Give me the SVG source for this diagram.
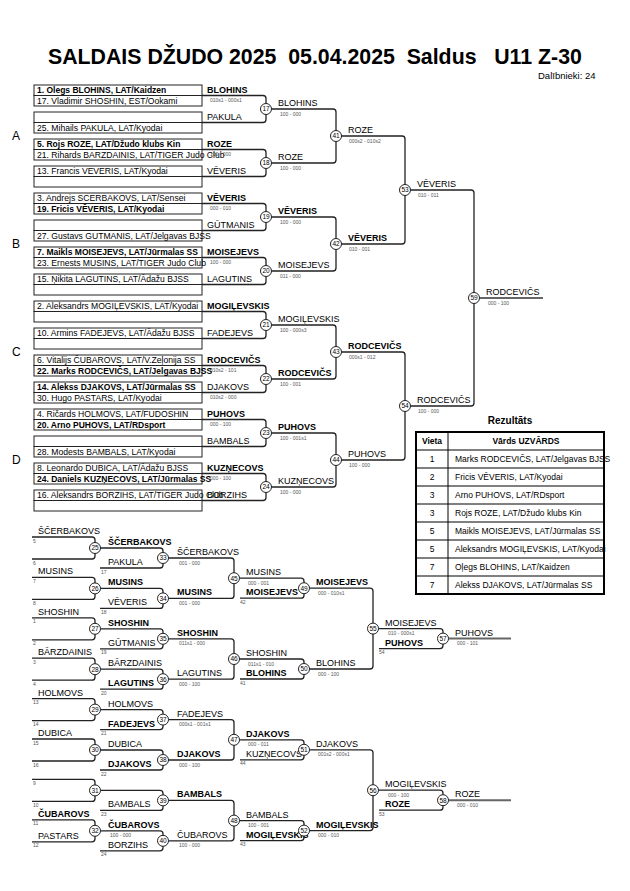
<svg xmlns="http://www.w3.org/2000/svg" width="630" height="891" viewBox="0 0 630 891">
<style>
text{font-family:"Liberation Sans",Arial,sans-serif;fill:#000}
.t{font-size:21.3px;font-weight:bold;white-space:pre}
.e{font-size:8.6px}
.eb{font-size:8.5px;font-weight:bold}
.n{font-size:9px}
.nb{font-size:9px;font-weight:bold}
.s{font-size:5px;fill:#555}
.sn{font-size:5px;fill:#555}
.cn{font-size:6.5px;text-anchor:middle}
.g{font-size:12px}
.box{fill:#fff;stroke:#222;stroke-width:1}
.ln{fill:none;stroke:#222;stroke-width:1.3}
.fin{fill:none;stroke:#666;stroke-width:2}
.c{fill:#fff;stroke:#222;stroke-width:1}
.tb{fill:none;stroke:#000;stroke-width:2}
.tl{stroke:#000;stroke-width:1}
.th{font-size:8.5px;font-weight:bold}
.r{font-size:8.5px}
</style>
<rect width="630" height="891" fill="#fff"/>
<g id="title">
<text class="t" x="48" y="64" xml:space="preserve">SALDAIS DŽUDO 2025  05.04.2025  Saldus   U11 Z-30</text>
<text x="538" y="79" style="font-size:9.5px">Dalībnieki: 24</text>
</g>
<g id="pool-letters">
<text class="g" x="12" y="140">A</text>
<text class="g" x="12" y="248">B</text>
<text class="g" x="12" y="356">C</text>
<text class="g" x="12" y="464">D</text>
</g>
<g id="connectors">
<path class="ln" d="M202 95.5H263Q266 95.5 266 98.5V119.5Q266 122.5 263 122.5H202"/>
<path class="ln" d="M202 149.5H263Q266 149.5 266 152.5V173.5Q266 176.5 263 176.5H202"/>
<path class="ln" d="M202 203.5H263Q266 203.5 266 206.5V227.5Q266 230.5 263 230.5H202"/>
<path class="ln" d="M202 257.5H263Q266 257.5 266 260.5V281.5Q266 284.5 263 284.5H202"/>
<path class="ln" d="M202 311.5H263Q266 311.5 266 314.5V335.5Q266 338.5 263 338.5H202"/>
<path class="ln" d="M202 365.5H263Q266 365.5 266 368.5V389.5Q266 392.5 263 392.5H202"/>
<path class="ln" d="M202 419.5H263Q266 419.5 266 422.5V443.5Q266 446.5 263 446.5H202"/>
<path class="ln" d="M202 473.5H263Q266 473.5 266 476.5V497.5Q266 500.5 263 500.5H202"/>
<path class="ln" d="M266 109H333Q336 109 336 112V160Q336 163 333 163H266"/>
<path class="ln" d="M266 217H333Q336 217 336 220V268Q336 271 333 271H266"/>
<path class="ln" d="M266 325H333Q336 325 336 328V376Q336 379 333 379H266"/>
<path class="ln" d="M266 433H333Q336 433 336 436V484Q336 487 333 487H266"/>
<path class="ln" d="M336 136H402Q405 136 405 139V241Q405 244 402 244H336"/>
<path class="ln" d="M336 352H402Q405 352 405 355V457Q405 460 402 460H336"/>
<path class="ln" d="M405 190H471Q474 190 474 193V403Q474 406 471 406H405"/>
<path class="fin" d="M474 298H543"/>
<path class="ln" d="M32 537H92Q95 537 95 540V556Q95 559 92 559H32"/>
<path class="ln" d="M32 577.4H92Q95 577.4 95 580.4V596.4Q95 599.4 92 599.4H32"/>
<path class="ln" d="M32 617.8H92Q95 617.8 95 620.8V636.8Q95 639.8 92 639.8H32"/>
<path class="ln" d="M32 658.2H92Q95 658.2 95 661.2V677.2Q95 680.2 92 680.2H32"/>
<path class="ln" d="M32 698.6H92Q95 698.6 95 701.6V717.6Q95 720.6 92 720.6H32"/>
<path class="ln" d="M32 739H92Q95 739 95 742V758Q95 761 92 761H32"/>
<path class="ln" d="M32 779.4H92Q95 779.4 95 782.4V798.4Q95 801.4 92 801.4H32"/>
<path class="ln" d="M32 819.8H92Q95 819.8 95 822.8V838.8Q95 841.8 92 841.8H32"/>
<path class="ln" d="M95 548H160Q163 548 163 551V565Q163 568 160 568H100"/>
<path class="ln" d="M95 588.4H160Q163 588.4 163 591.4V605.4Q163 608.4 160 608.4H100"/>
<path class="ln" d="M95 628.8H160Q163 628.8 163 631.8V645.8Q163 648.8 160 648.8H100"/>
<path class="ln" d="M95 669.2H160Q163 669.2 163 672.2V686.2Q163 689.2 160 689.2H100"/>
<path class="ln" d="M95 709.6H160Q163 709.6 163 712.6V726.6Q163 729.6 160 729.6H100"/>
<path class="ln" d="M95 750H160Q163 750 163 753V767Q163 770 160 770H100"/>
<path class="ln" d="M95 790.4H160Q163 790.4 163 793.4V807.4Q163 810.4 160 810.4H100"/>
<path class="ln" d="M95 830.8H160Q163 830.8 163 833.8V847.8Q163 850.8 160 850.8H100"/>
<path class="ln" d="M163 558H231Q234 558 234 561V595.4Q234 598.4 231 598.4H163"/>
<path class="ln" d="M163 638.8H231Q234 638.8 234 641.8V676.2Q234 679.2 231 679.2H163"/>
<path class="ln" d="M163 719.6H231Q234 719.6 234 722.6V757Q234 760 231 760H163"/>
<path class="ln" d="M163 800.4H231Q234 800.4 234 803.4V837.8Q234 840.8 231 840.8H163"/>
<path class="ln" d="M234 578.2H301Q304 578.2 304 581.2V595.2Q304 598.2 301 598.2H240"/>
<path class="ln" d="M234 659H301Q304 659 304 662V676Q304 679 301 679H240"/>
<path class="ln" d="M234 739.8H301Q304 739.8 304 742.8V756.8Q304 759.8 301 759.8H240"/>
<path class="ln" d="M234 820.6H301Q304 820.6 304 823.6V837.6Q304 840.6 301 840.6H240"/>
<path class="ln" d="M304 588.2H370Q373 588.2 373 591.2V666Q373 669 370 669H304"/>
<path class="ln" d="M304 749.8H370Q373 749.8 373 752.8V827.6Q373 830.6 370 830.6H304"/>
<path class="ln" d="M373 628.6H440Q443 628.6 443 631.6V645.6Q443 648.6 440 648.6H379"/>
<path class="ln" d="M373 790.2H440Q443 790.2 443 793.2V807.2Q443 810.2 440 810.2H379"/>
<path class="fin" d="M443 638.6H511"/>
<path class="fin" d="M443 800.2H511"/>
</g>
<g id="entries">
<g id="pair-1"><rect class="box" x="34" y="85" width="168" height="10.5"/><rect class="box" x="34" y="95.5" width="168" height="10.5"/>
<text class="eb" x="37" y="93.3">1. Olegs BLOHINS, LAT/Kaidzen</text><text class="e" x="37" y="103.8">17. Vladimir SHOSHIN, EST/Ookami</text>
<text class="nb" x="207" y="92.5">BLOHINS</text><text class="s" x="210" y="102">010s1 - 000s1</text></g>
<g id="pair-2"><rect class="box" x="34" y="112" width="168" height="10.5"/><rect class="box" x="34" y="122.5" width="168" height="10.5"/>
<text class="e" x="37" y="130.8">25. Mihails PAKULA, LAT/Kyodai</text>
<text class="n" x="207" y="119.5">PAKULA</text></g>
<g id="pair-3"><rect class="box" x="34" y="139" width="168" height="10.5"/><rect class="box" x="34" y="149.5" width="168" height="10.5"/>
<text class="nb" x="207" y="146.5">ROZE</text><text class="s" x="210" y="156">100 - 000</text>
<text class="eb" x="37" y="147.3">5. Rojs ROZE, LAT/Džudo klubs Kin</text><text class="e" x="37" y="157.8">21. Rihards BARZDAINIS, LAT/TIGER Judo Club</text></g>
<g id="pair-4"><rect class="box" x="34" y="166" width="168" height="10.5"/><rect class="box" x="34" y="176.5" width="168" height="10.5"/>
<text class="e" x="37" y="174.3">13. Francis VEVERIS, LAT/Kyodai</text>
<text class="n" x="207" y="173.5">VĒVERIS</text></g>
<g id="pair-5"><rect class="box" x="34" y="193" width="168" height="10.5"/><rect class="box" x="34" y="203.5" width="168" height="10.5"/>
<text class="e" x="37" y="201.3">3. Andrejs SCERBAKOVS, LAT/Sensei</text><text class="eb" x="37" y="211.8">19. Fricis VĒVERIS, LAT/Kyodai</text>
<text class="nb" x="207" y="200.5">VĒVERIS</text><text class="s" x="210" y="210">000 - 010</text></g>
<g id="pair-6"><rect class="box" x="34" y="220" width="168" height="10.5"/><rect class="box" x="34" y="230.5" width="168" height="10.5"/>
<text class="n" x="207" y="227.5">GŪTMANIS</text>
<text class="e" x="37" y="238.8">27. Gustavs GUTMANIS, LAT/Jelgavas BJSS</text></g>
<g id="pair-7"><rect class="box" x="34" y="247" width="168" height="10.5"/><rect class="box" x="34" y="257.5" width="168" height="10.5"/>
<text class="nb" x="207" y="254.5">MOISEJEVS</text><text class="s" x="210" y="264">100 - 000</text>
<text class="eb" x="37" y="255.3">7. Maikls MOISEJEVS, LAT/Jūrmalas SS</text><text class="e" x="37" y="265.8">23. Ernests MUSINS, LAT/TIGER Judo Club</text></g>
<g id="pair-8"><rect class="box" x="34" y="274" width="168" height="10.5"/><rect class="box" x="34" y="284.5" width="168" height="10.5"/>
<text class="e" x="37" y="282.3">15. Ņikita LAGUTINS, LAT/Ādažu BJSS</text>
<text class="n" x="207" y="281.5">LAGUTINS</text></g>
<g id="pair-9"><rect class="box" x="34" y="301" width="168" height="10.5"/><rect class="box" x="34" y="311.5" width="168" height="10.5"/>
<text class="e" x="37" y="309.3">2. Aleksandrs MOGIĻEVSKIS, LAT/Kyodai</text>
<text class="nb" x="207" y="308.5">MOGIĻEVSKIS</text></g>
<g id="pair-10"><rect class="box" x="34" y="328" width="168" height="10.5"/><rect class="box" x="34" y="338.5" width="168" height="10.5"/>
<text class="e" x="37" y="336.3">10. Armins FADEJEVS, LAT/Ādažu BJSS</text>
<text class="n" x="207" y="335.5">FADEJEVS</text></g>
<g id="pair-11"><rect class="box" x="34" y="355" width="168" height="10.5"/><rect class="box" x="34" y="365.5" width="168" height="10.5"/>
<text class="nb" x="207" y="362.5">RODCEVIČS</text><text class="s" x="210" y="372">010s2 - 101</text>
<text class="e" x="37" y="363.3">6. Vitalijs ČUBAROVS, LAT/V.Zeļonija SS</text><text class="eb" x="37" y="373.8">22. Marks RODCEVIČS, LAT/Jelgavas BJSS</text></g>
<g id="pair-12"><rect class="box" x="34" y="382" width="168" height="10.5"/><rect class="box" x="34" y="392.5" width="168" height="10.5"/>
<text class="eb" x="37" y="390.3">14. Alekss DJAKOVS, LAT/Jūrmalas SS</text><text class="e" x="37" y="400.8">30. Hugo PASTARS, LAT/Kyodai</text>
<text class="n" x="207" y="389.5">DJAKOVS</text><text class="s" x="210" y="399">010s2 - 000</text></g>
<g id="pair-13"><rect class="box" x="34" y="409" width="168" height="10.5"/><rect class="box" x="34" y="419.5" width="168" height="10.5"/>
<text class="e" x="37" y="417.3">4. Ričards HOLMOVS, LAT/FUDOSHIN</text><text class="eb" x="37" y="427.8">20. Arno PUHOVS, LAT/RDsport</text>
<text class="nb" x="207" y="416.5">PUHOVS</text><text class="s" x="210" y="426">000 - 100</text></g>
<g id="pair-14"><rect class="box" x="34" y="436" width="168" height="10.5"/><rect class="box" x="34" y="446.5" width="168" height="10.5"/>
<text class="n" x="207" y="443.5">BAMBALS</text>
<text class="e" x="37" y="454.8">28. Modests BAMBALS, LAT/Kyodai</text></g>
<g id="pair-15"><rect class="box" x="34" y="463" width="168" height="10.5"/><rect class="box" x="34" y="473.5" width="168" height="10.5"/>
<text class="nb" x="207" y="470.5">KUZŅECOVS</text><text class="s" x="210" y="480">000 - 100</text>
<text class="e" x="37" y="471.3">8. Leonardo DUBICA, LAT/Ādažu BJSS</text><text class="eb" x="37" y="481.8">24. Daniels KUZŅECOVS, LAT/Jūrmalas SS</text></g>
<g id="pair-16"><rect class="box" x="34" y="490" width="168" height="10.5"/><rect class="box" x="34" y="500.5" width="168" height="10.5"/>
<text class="n" x="207" y="497.5">BORZIHS</text>
<text class="e" x="37" y="498.3">16. Aleksandrs BORZIHS, LAT/TIGER Judo Club</text></g>
</g>
<g id="main-matches">
<g id="m17"><circle class="c" cx="266" cy="109" r="5.5"/><text class="cn" x="266" y="111.3">17</text><text class="n" x="278" y="106">BLOHINS</text><text class="s" x="280" y="115.5">100 - 000</text></g>
<g id="m18"><circle class="c" cx="266" cy="163" r="5.5"/><text class="cn" x="266" y="165.3">18</text><text class="n" x="278" y="160">ROZE</text><text class="s" x="280" y="169.5">100 - 000</text></g>
<g id="m19"><circle class="c" cx="266" cy="217" r="5.5"/><text class="cn" x="266" y="219.3">19</text><text class="nb" x="278" y="214">VĒVERIS</text><text class="s" x="280" y="223.5">100 - 000</text></g>
<g id="m20"><circle class="c" cx="266" cy="271" r="5.5"/><text class="cn" x="266" y="273.3">20</text><text class="n" x="278" y="268">MOISEJEVS</text><text class="s" x="280" y="277.5">011 - 000</text></g>
<g id="m21"><circle class="c" cx="266" cy="325" r="5.5"/><text class="cn" x="266" y="327.3">21</text><text class="n" x="278" y="322">MOGIĻEVSKIS</text><text class="s" x="280" y="331.5">100 - 000s3</text></g>
<g id="m22"><circle class="c" cx="266" cy="379" r="5.5"/><text class="cn" x="266" y="381.3">22</text><text class="nb" x="278" y="376">RODCEVIČS</text><text class="s" x="280" y="385.5">100 - 001</text></g>
<g id="m23"><circle class="c" cx="266" cy="433" r="5.5"/><text class="cn" x="266" y="435.3">23</text><text class="nb" x="278" y="430">PUHOVS</text><text class="s" x="280" y="439.5">100 - 001s1</text></g>
<g id="m24"><circle class="c" cx="266" cy="487" r="5.5"/><text class="cn" x="266" y="489.3">24</text><text class="n" x="278" y="484">KUZŅECOVS</text><text class="s" x="280" y="493.5">100 - 000</text></g>
<g id="m41"><circle class="c" cx="336" cy="136" r="5.5"/><text class="cn" x="336" y="138.3">41</text><text class="n" x="348" y="133">ROZE</text><text class="s" x="349" y="142.5">000s2 - 010s2</text></g>
<g id="m42"><circle class="c" cx="336" cy="244" r="5.5"/><text class="cn" x="336" y="246.3">42</text><text class="nb" x="348" y="241">VĒVERIS</text><text class="s" x="349" y="250.5">010 - 001</text></g>
<g id="m43"><circle class="c" cx="336" cy="352" r="5.5"/><text class="cn" x="336" y="354.3">43</text><text class="nb" x="348" y="349">RODCEVIČS</text><text class="s" x="349" y="358.5">000s1 - 012</text></g>
<g id="m44"><circle class="c" cx="336" cy="460" r="5.5"/><text class="cn" x="336" y="462.3">44</text><text class="n" x="348" y="457">PUHOVS</text><text class="s" x="349" y="466.5">100 - 000</text></g>
<g id="m53"><circle class="c" cx="405" cy="190" r="5.5"/><text class="cn" x="405" y="192.3">53</text><text class="n" x="417" y="187">VĒVERIS</text><text class="s" x="418" y="196.5">010 - 011</text></g>
<g id="m54"><circle class="c" cx="405" cy="406" r="5.5"/><text class="cn" x="405" y="408.3">54</text><text class="n" x="417" y="403">RODCEVIČS</text><text class="s" x="418" y="412.5">100 - 000</text></g>
<g id="m59"><circle class="c" cx="474" cy="298" r="5.5"/><text class="cn" x="474" y="300.3">59</text><text class="n" x="486" y="295">RODCEVIČS</text><text class="s" x="488" y="304.5">000 - 100</text></g>
</g>
<g id="results">
<text x="510" y="424" style="font-size:10px;font-weight:bold;text-anchor:middle">Rezultāts</text>
<rect class="tb" x="416" y="432" width="188" height="162"/>
<line class="tl" x1="448" y1="432" x2="448" y2="594"/>
<line class="tl" x1="416" y1="450" x2="604" y2="450"/>
<line class="tl" x1="416" y1="468" x2="604" y2="468"/>
<line class="tl" x1="416" y1="486" x2="604" y2="486"/>
<line class="tl" x1="416" y1="504" x2="604" y2="504"/>
<line class="tl" x1="416" y1="522" x2="604" y2="522"/>
<line class="tl" x1="416" y1="540" x2="604" y2="540"/>
<line class="tl" x1="416" y1="558" x2="604" y2="558"/>
<line class="tl" x1="416" y1="576" x2="604" y2="576"/>
<text class="th" x="432" y="444" text-anchor="middle">Vieta</text>
<text class="th" x="526" y="444" text-anchor="middle">Vārds UZVĀRDS</text>
<g text-anchor="middle" class="r">
<text class="r" x="432" y="462">1</text><text class="r" x="432" y="480">2</text><text class="r" x="432" y="498">3</text><text class="r" x="432" y="516">3</text>
<text class="r" x="432" y="534">5</text><text class="r" x="432" y="552">5</text><text class="r" x="432" y="570">7</text><text class="r" x="432" y="588">7</text>
</g>
<text class="r" x="455" y="462">Marks RODCEVIČS, LAT/Jelgavas BJSS</text>
<text class="r" x="455" y="480">Fricis VĒVERIS, LAT/Kyodai</text>
<text class="r" x="455" y="498">Arno PUHOVS, LAT/RDsport</text>
<text class="r" x="455" y="516">Rojs ROZE, LAT/Džudo klubs Kin</text>
<text class="r" x="455" y="534">Maikls MOISEJEVS, LAT/Jūrmalas SS</text>
<text class="r" x="455" y="552">Aleksandrs MOGIĻEVSKIS, LAT/Kyodai</text>
<text class="r" x="455" y="570">Oļegs BLOHINS, LAT/Kaidzen</text>
<text class="r" x="455" y="588">Alekss DJAKOVS, LAT/Jūrmalas SS</text>
</g>
<g id="repechage-inputs">
<text class="n" x="38" y="534">ŠČERBAKOVS</text><text class="sn" x="33" y="542.5">5</text><text class="sn" x="33" y="564.5">6</text>
<text class="n" x="38" y="574.4">MUSINS</text><text class="sn" x="33" y="582.9">7</text><text class="sn" x="33" y="604.9">8</text>
<text class="n" x="38" y="614.8">SHOSHIN</text><text class="sn" x="33" y="623.3">1</text><text class="sn" x="33" y="645.3">2</text>
<text class="n" x="38" y="655.2">BĀRZDAINIS</text><text class="sn" x="33" y="663.7">3</text><text class="sn" x="33" y="685.7">4</text>
<text class="n" x="38" y="695.6">HOLMOVS</text><text class="sn" x="33" y="704.1">13</text><text class="sn" x="33" y="726.1">14</text>
<text class="n" x="38" y="736">DUBICA</text><text class="sn" x="33" y="744.5">15</text><text class="sn" x="33" y="766.5">16</text>
<text class="sn" x="33" y="784.9">9</text><text class="sn" x="33" y="806.9">10</text>
<text class="nb" x="38" y="816.8">ČUBAROVS</text><text class="sn" x="33" y="825.3">11</text>
<text class="n" x="38" y="838.8">PASTARS</text><text class="sn" x="33" y="847.3">12</text>
</g>
<g id="repechage-matches">
<g id="m25"><circle class="c" cx="95" cy="548" r="5.5"/><text class="cn" x="95" y="550.3">25</text><text class="nb" x="108" y="545">ŠČERBAKOVS</text></g>
<g id="m26"><circle class="c" cx="95" cy="588.4" r="5.5"/><text class="cn" x="95" y="590.7">26</text><text class="nb" x="108" y="585.4">MUSINS</text></g>
<g id="m27"><circle class="c" cx="95" cy="628.8" r="5.5"/><text class="cn" x="95" y="631.1">27</text><text class="nb" x="108" y="625.8">SHOSHIN</text></g>
<g id="m28"><circle class="c" cx="95" cy="669.2" r="5.5"/><text class="cn" x="95" y="671.5">28</text><text class="n" x="108" y="666.2">BĀRZDAINIS</text></g>
<g id="m29"><circle class="c" cx="95" cy="709.6" r="5.5"/><text class="cn" x="95" y="711.9">29</text><text class="n" x="108" y="706.6">HOLMOVS</text></g>
<g id="m30"><circle class="c" cx="95" cy="750" r="5.5"/><text class="cn" x="95" y="752.3">30</text><text class="n" x="108" y="747">DUBICA</text></g>
<g id="m31"><circle class="c" cx="95" cy="790.4" r="5.5"/><text class="cn" x="95" y="792.7">31</text></g>
<g id="m32"><circle class="c" cx="95" cy="830.8" r="5.5"/><text class="cn" x="95" y="833.1">32</text><text class="nb" x="108" y="827.8">ČUBAROVS</text><text class="s" x="110" y="837.3">100 - 000</text></g>
<g id="m33"><text class="n" x="108" y="565">PAKULA</text><text class="sn" x="101" y="573.5">17</text><circle class="c" cx="163" cy="558" r="5.5"/><text class="cn" x="163" y="560.3">33</text><text class="n" x="177" y="555">ŠČERBAKOVS</text><text class="s" x="179" y="564.5">001 - 000</text></g>
<g id="m34"><text class="n" x="108" y="605.4">VĒVERIS</text><text class="sn" x="101" y="613.9">18</text><circle class="c" cx="163" cy="598.4" r="5.5"/><text class="cn" x="163" y="600.7">34</text><text class="nb" x="177" y="595.4">MUSINS</text><text class="s" x="179" y="604.9">001 - 000</text></g>
<g id="m35"><text class="n" x="108" y="645.8">GŪTMANIS</text><text class="sn" x="101" y="654.3">19</text><circle class="c" cx="163" cy="638.8" r="5.5"/><text class="cn" x="163" y="641.1">35</text><text class="nb" x="177" y="635.8">SHOSHIN</text><text class="s" x="179" y="645.3">011s1 - 000</text></g>
<g id="m36"><text class="nb" x="108" y="686.2">LAGUTINS</text><text class="sn" x="101" y="694.7">20</text><circle class="c" cx="163" cy="679.2" r="5.5"/><text class="cn" x="163" y="681.5">36</text><text class="n" x="177" y="676.2">LAGUTINS</text><text class="s" x="179" y="685.7">000 - 100</text></g>
<g id="m37"><text class="nb" x="108" y="726.6">FADEJEVS</text><text class="sn" x="101" y="735.1">21</text><circle class="c" cx="163" cy="719.6" r="5.5"/><text class="cn" x="163" y="721.9">37</text><text class="n" x="177" y="716.6">FADEJEVS</text><text class="s" x="179" y="726.1">000s1 - 001s1</text></g>
<g id="m38"><text class="nb" x="108" y="767">DJAKOVS</text><text class="sn" x="101" y="775.5">22</text><circle class="c" cx="163" cy="760" r="5.5"/><text class="cn" x="163" y="762.3">38</text><text class="nb" x="177" y="757">DJAKOVS</text><text class="s" x="179" y="766.5">000 - 100</text></g>
<g id="m39"><text class="n" x="108" y="807.4">BAMBALS</text><text class="sn" x="101" y="815.9">23</text><circle class="c" cx="163" cy="800.4" r="5.5"/><text class="cn" x="163" y="802.7">39</text><text class="nb" x="177" y="797.4">BAMBALS</text></g>
<g id="m40"><text class="n" x="108" y="847.8">BORZIHS</text><text class="sn" x="101" y="856.3">24</text><circle class="c" cx="163" cy="840.8" r="5.5"/><text class="cn" x="163" y="843.1">40</text><text class="n" x="177" y="837.8">ČUBAROVS</text><text class="s" x="179" y="847.3">100 - 000</text></g>
<g id="m45"><circle class="c" cx="234" cy="578.2" r="5.5"/><text class="cn" x="234" y="580.5">45</text><text class="n" x="246" y="575.2">MUSINS</text><text class="s" x="248" y="584.7">000 - 001</text></g>
<g id="m46"><circle class="c" cx="234" cy="659" r="5.5"/><text class="cn" x="234" y="661.3">46</text><text class="n" x="246" y="656">SHOSHIN</text><text class="s" x="248" y="665.5">011s1 - 010</text></g>
<g id="m47"><circle class="c" cx="234" cy="739.8" r="5.5"/><text class="cn" x="234" y="742.1">47</text><text class="nb" x="246" y="736.8">DJAKOVS</text><text class="s" x="248" y="746.3">000 - 011</text></g>
<g id="m48"><circle class="c" cx="234" cy="820.6" r="5.5"/><text class="cn" x="234" y="822.9">48</text><text class="n" x="246" y="817.6">BAMBALS</text><text class="s" x="248" y="827.1">100 - 001</text></g>
<g id="m49"><text class="nb" x="246" y="595.2">MOISEJEVS</text><text class="sn" x="240" y="603.7">42</text><circle class="c" cx="304" cy="588.2" r="5.5"/><text class="cn" x="304" y="590.5">49</text><text class="nb" x="316" y="585.2">MOISEJEVS</text><text class="s" x="318" y="594.7">000 - 010s1</text></g>
<g id="m50"><text class="nb" x="246" y="676">BLOHINS</text><text class="sn" x="240" y="684.5">41</text><circle class="c" cx="304" cy="669" r="5.5"/><text class="cn" x="304" y="671.3">50</text><text class="n" x="316" y="666">BLOHINS</text><text class="s" x="318" y="675.5">000 - 100</text></g>
<g id="m51"><text class="n" x="246" y="756.8">KUZŅECOVS</text><text class="sn" x="240" y="765.3">44</text><circle class="c" cx="304" cy="749.8" r="5.5"/><text class="cn" x="304" y="752.1">51</text><text class="n" x="316" y="746.8">DJAKOVS</text><text class="s" x="318" y="756.3">001s2 - 000s1</text></g>
<g id="m52"><text class="nb" x="246" y="837.6">MOGIĻEVSKIS</text><text class="sn" x="240" y="846.1">43</text><circle class="c" cx="304" cy="830.6" r="5.5"/><text class="cn" x="304" y="832.9">52</text><text class="nb" x="316" y="827.6">MOGIĻEVSKIS</text><text class="s" x="318" y="837.1">000 - 010</text></g>
<g id="m55"><circle class="c" cx="373" cy="628.6" r="5.5"/><text class="cn" x="373" y="630.9">55</text><text class="n" x="385" y="625.6">MOISEJEVS</text><text class="s" x="388" y="635.1">010 - 000s1</text></g>
<g id="m56"><circle class="c" cx="373" cy="790.2" r="5.5"/><text class="cn" x="373" y="792.5">56</text><text class="n" x="385" y="787.2">MOGIĻEVSKIS</text><text class="s" x="388" y="796.7">000 - 100</text></g>
<g id="m57"><text class="nb" x="385" y="645.6">PUHOVS</text><text class="sn" x="379" y="654.1">54</text><circle class="c" cx="443" cy="638.6" r="5.5"/><text class="cn" x="443" y="640.9">57</text><text class="n" x="455" y="635.6">PUHOVS</text><text class="s" x="457" y="645.1">000 - 101</text></g>
<g id="m58"><text class="nb" x="385" y="807.2">ROZE</text><text class="sn" x="379" y="815.7">53</text><circle class="c" cx="443" cy="800.2" r="5.5"/><text class="cn" x="443" y="802.5">58</text><text class="n" x="455" y="797.2">ROZE</text><text class="s" x="457" y="806.7">000 - 010</text></g>
</g>
</svg>
